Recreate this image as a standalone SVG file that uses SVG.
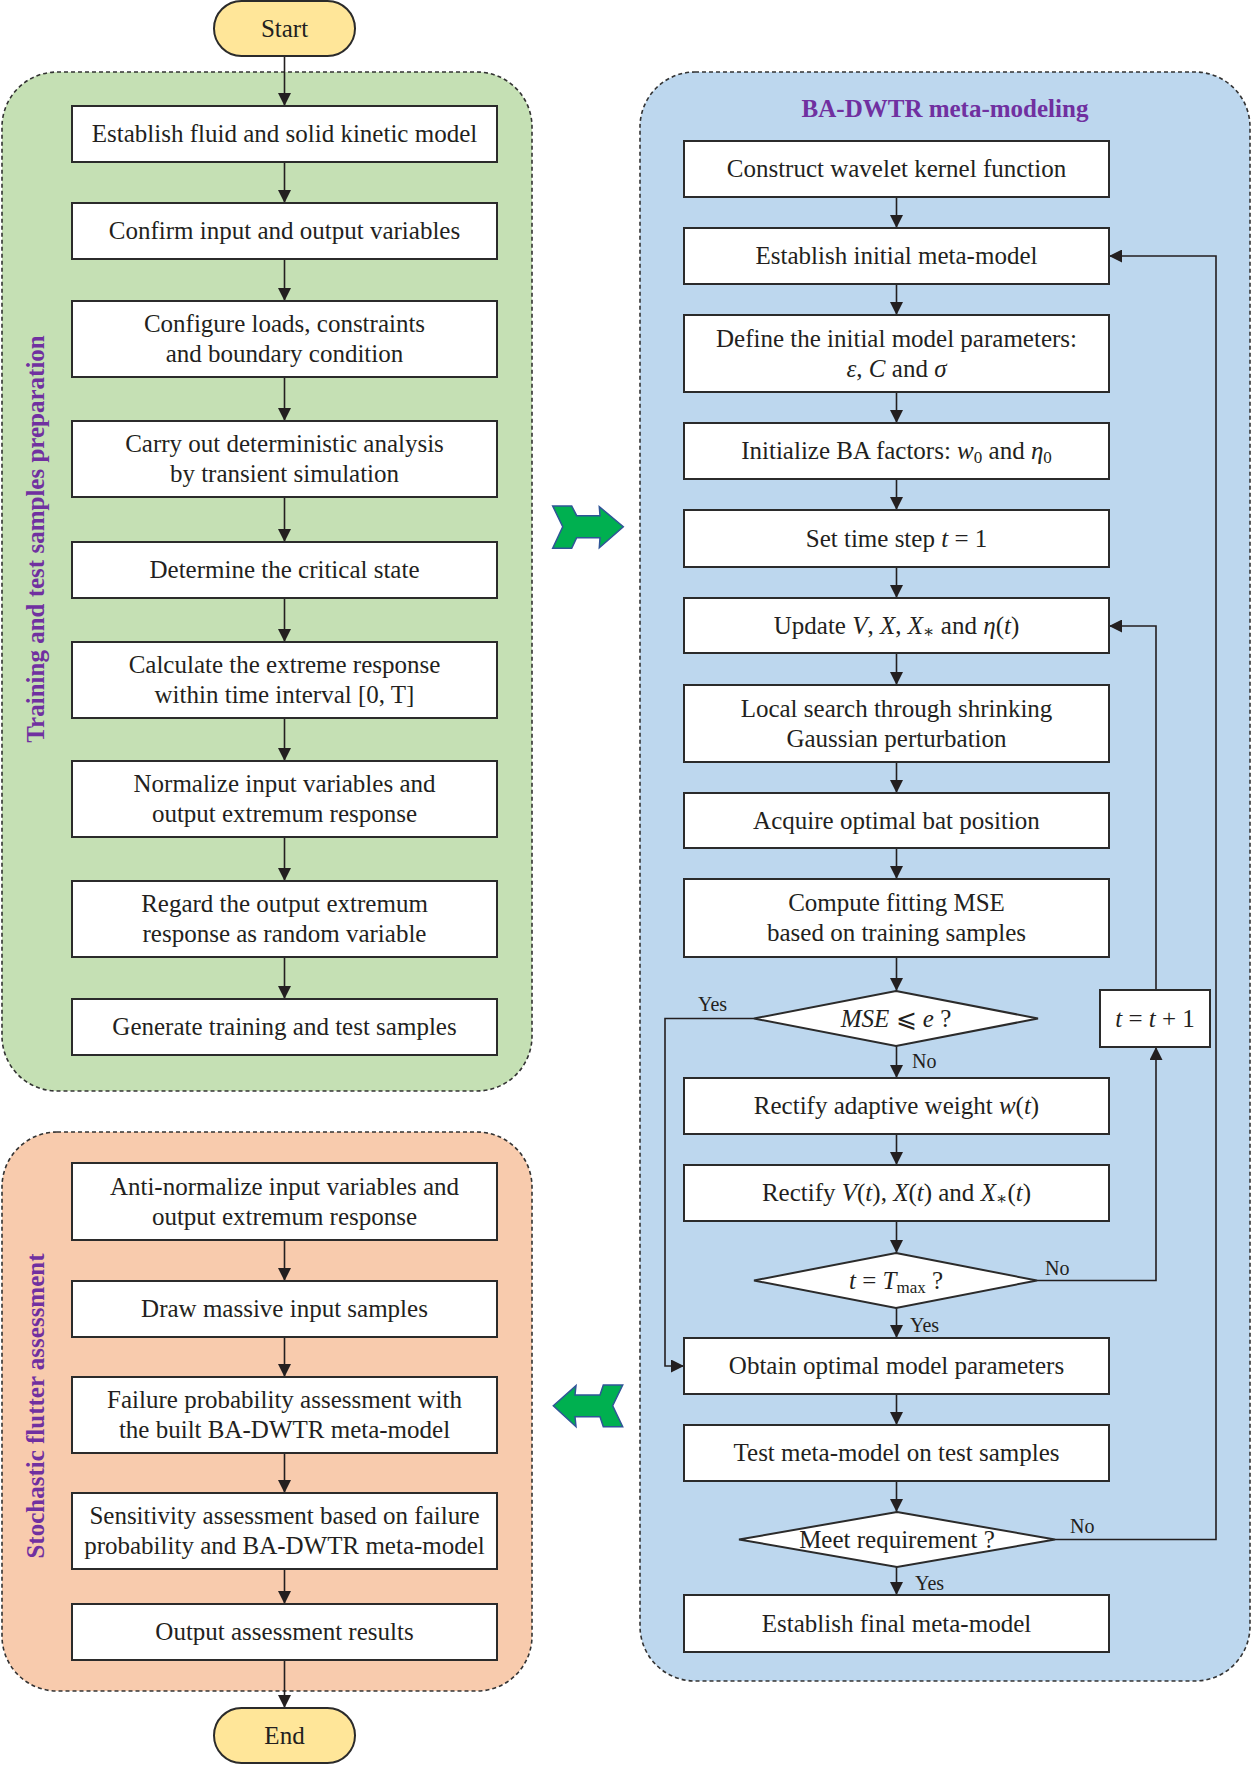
<svg xmlns="http://www.w3.org/2000/svg" width="1252" height="1766" viewBox="0 0 1252 1766">
<style>
.t{font-family:"Liberation Serif","DejaVu Serif",serif;font-size:25px;fill:#231f20;text-anchor:middle}
.lab{font-family:"Liberation Serif","DejaVu Serif",serif;font-size:20px;fill:#231f20}
.ttl{font-family:"Liberation Serif","DejaVu Serif",serif;font-size:25px;font-weight:bold;fill:#7030a0;text-anchor:middle}
.box{fill:#ffffff;stroke:#2b2b2b;stroke-width:2}
.term{fill:#ffe699;stroke:#2b2b2b;stroke-width:2}
.panel{stroke:#333333;stroke-width:1.6;stroke-dasharray:4 3}
.ln{fill:none;stroke:#231f20;stroke-width:1.6}
.ga{fill:#00b050;stroke:#2f5597;stroke-width:1.5;stroke-linejoin:miter}
.i{font-style:italic}
.sub{font-size:17px}
</style>
<defs>
<marker id="ah" markerUnits="userSpaceOnUse" markerWidth="13" markerHeight="13" refX="13" refY="6.5" orient="auto">
<path d="M0,0 L13,6.5 L0,13 z" fill="#231f20"/>
</marker>
</defs>

<g id="panels">
<rect id="panel-train" class="panel" x="2" y="72" width="530" height="1019" rx="55" fill="#c5e0b4"/>
<rect id="panel-stoch" class="panel" x="2" y="1132" width="530" height="559" rx="55" fill="#f8cbad"/>
<rect id="panel-ba" class="panel" x="640" y="72" width="610" height="1609" rx="55" fill="#bdd7ee"/>
<text class="ttl" x="945" y="117">BA-DWTR meta-modeling</text>
<text class="ttl" transform="translate(44,539) rotate(-90)">Training and test samples preparation</text>
<text class="ttl" transform="translate(44,1406) rotate(-90)">Stochastic flutter assessment</text>
</g>

<g id="big-arrows">
<polygon id="arrow-right" class="ga" points="552.7,506 571.7,506 576.7,515.7 600,515.7 599.3,506.7 623.3,526.7 599.3,547.7 600,537.7 576.7,537.7 571.7,548.3 552.7,548.3 562.7,526.7"/>
<polygon id="arrow-left" class="ga" points="553.3,1405.7 576,1385.7 575,1395 600,1395 603.3,1385 622.7,1385 612.7,1405.7 622.7,1426.7 603.3,1426.7 600,1416.7 575,1416.7 576,1426.7"/>
</g>

<g id="connectors">
<line class="ln" x1="284.5" y1="56" x2="284.5" y2="106" marker-end="url(#ah)"/>
<line class="ln" x1="284.5" y1="162" x2="284.5" y2="203" marker-end="url(#ah)"/>
<line class="ln" x1="284.5" y1="259" x2="284.5" y2="301" marker-end="url(#ah)"/>
<line class="ln" x1="284.5" y1="377" x2="284.5" y2="421" marker-end="url(#ah)"/>
<line class="ln" x1="284.5" y1="497" x2="284.5" y2="542" marker-end="url(#ah)"/>
<line class="ln" x1="284.5" y1="598" x2="284.5" y2="642" marker-end="url(#ah)"/>
<line class="ln" x1="284.5" y1="718" x2="284.5" y2="761" marker-end="url(#ah)"/>
<line class="ln" x1="284.5" y1="837" x2="284.5" y2="881" marker-end="url(#ah)"/>
<line class="ln" x1="284.5" y1="957" x2="284.5" y2="999" marker-end="url(#ah)"/>
<line class="ln" x1="284.5" y1="1240" x2="284.5" y2="1281" marker-end="url(#ah)"/>
<line class="ln" x1="284.5" y1="1337" x2="284.5" y2="1377" marker-end="url(#ah)"/>
<line class="ln" x1="284.5" y1="1453" x2="284.5" y2="1493" marker-end="url(#ah)"/>
<line class="ln" x1="284.5" y1="1569" x2="284.5" y2="1604" marker-end="url(#ah)"/>
<line class="ln" x1="284.5" y1="1660" x2="284.5" y2="1708" marker-end="url(#ah)"/>

<line class="ln" x1="896.5" y1="197" x2="896.5" y2="228" marker-end="url(#ah)"/>
<line class="ln" x1="896.5" y1="284" x2="896.5" y2="315" marker-end="url(#ah)"/>
<line class="ln" x1="896.5" y1="392" x2="896.5" y2="423" marker-end="url(#ah)"/>
<line class="ln" x1="896.5" y1="479" x2="896.5" y2="510" marker-end="url(#ah)"/>
<line class="ln" x1="896.5" y1="567" x2="896.5" y2="598" marker-end="url(#ah)"/>
<line class="ln" x1="896.5" y1="653" x2="896.5" y2="685" marker-end="url(#ah)"/>
<line class="ln" x1="896.5" y1="762" x2="896.5" y2="793" marker-end="url(#ah)"/>
<line class="ln" x1="896.5" y1="848" x2="896.5" y2="879" marker-end="url(#ah)"/>
<line class="ln" x1="896.5" y1="957" x2="896.5" y2="991" marker-end="url(#ah)"/>
<line class="ln" x1="896.5" y1="1046" x2="896.5" y2="1078" marker-end="url(#ah)"/>
<line class="ln" x1="896.5" y1="1134" x2="896.5" y2="1165" marker-end="url(#ah)"/>
<line class="ln" x1="896.5" y1="1221" x2="896.5" y2="1253" marker-end="url(#ah)"/>
<line class="ln" x1="896.5" y1="1308" x2="896.5" y2="1338" marker-end="url(#ah)"/>
<line class="ln" x1="896.5" y1="1394" x2="896.5" y2="1425" marker-end="url(#ah)"/>
<line class="ln" x1="896.5" y1="1481" x2="896.5" y2="1512" marker-end="url(#ah)"/>
<line class="ln" x1="896.5" y1="1567" x2="896.5" y2="1595" marker-end="url(#ah)"/>

<polyline class="ln" points="754,1018.5 665,1018.5 665,1366 684,1366" marker-end="url(#ah)"/>
<polyline class="ln" points="1037,1280.5 1156,1280.5 1156,1047" marker-end="url(#ah)"/>
<polyline class="ln" points="1156,990 1156,626 1109,626" marker-end="url(#ah)"/>
<polyline class="ln" points="1055,1539.5 1216,1539.5 1216,256 1109,256" marker-end="url(#ah)"/>

<text class="lab" x="698" y="1011">Yes</text>
<text class="lab" x="912" y="1068">No</text>
<text class="lab" x="1045" y="1275">No</text>
<text class="lab" x="910" y="1332">Yes</text>
<text class="lab" x="1070" y="1533">No</text>
<text class="lab" x="915" y="1590">Yes</text>
</g>

<g id="start"><rect class="term" x="214" y="1" width="141" height="55" rx="27.5"/><text class="t" x="284.5" y="37">Start</text></g>
<g id="end"><rect class="term" x="214" y="1708" width="141" height="55" rx="27.5"/><text class="t" x="284.5" y="1744">End</text></g>

<g id="L1"><rect class="box" x="72" y="106" width="425" height="56"/><text class="t" x="284.5" y="142">Establish fluid and solid kinetic model</text></g>
<g id="L2"><rect class="box" x="72" y="203" width="425" height="56"/><text class="t" x="284.5" y="239">Confirm input and output variables</text></g>
<g id="L3"><rect class="box" x="72" y="301" width="425" height="76"/><text class="t" x="284.5" y="332">Configure loads, constraints</text><text class="t" x="284.5" y="362">and boundary condition</text></g>
<g id="L4"><rect class="box" x="72" y="421" width="425" height="76"/><text class="t" x="284.5" y="452">Carry out deterministic analysis</text><text class="t" x="284.5" y="482">by transient simulation</text></g>
<g id="L5"><rect class="box" x="72" y="542" width="425" height="56"/><text class="t" x="284.5" y="578">Determine the critical state</text></g>
<g id="L6"><rect class="box" x="72" y="642" width="425" height="76"/><text class="t" x="284.5" y="673">Calculate the extreme response</text><text class="t" x="284.5" y="703">within time interval [0, T]</text></g>
<g id="L7"><rect class="box" x="72" y="761" width="425" height="76"/><text class="t" x="284.5" y="792">Normalize input variables and</text><text class="t" x="284.5" y="822">output extremum response</text></g>
<g id="L8"><rect class="box" x="72" y="881" width="425" height="76"/><text class="t" x="284.5" y="912">Regard the output extremum</text><text class="t" x="284.5" y="942">response as random variable</text></g>
<g id="L9"><rect class="box" x="72" y="999" width="425" height="56"/><text class="t" x="284.5" y="1035">Generate training and test samples</text></g>

<g id="O1"><rect class="box" x="72" y="1163" width="425" height="77"/><text class="t" x="284.5" y="1195">Anti-normalize input variables and</text><text class="t" x="284.5" y="1225">output extremum response</text></g>
<g id="O2"><rect class="box" x="72" y="1281" width="425" height="56"/><text class="t" x="284.5" y="1317">Draw massive input samples</text></g>
<g id="O3"><rect class="box" x="72" y="1377" width="425" height="76"/><text class="t" x="284.5" y="1408">Failure probability assessment with</text><text class="t" x="284.5" y="1438">the built BA-DWTR meta-model</text></g>
<g id="O4"><rect class="box" x="72" y="1493" width="425" height="76"/><text class="t" x="284.5" y="1524">Sensitivity assessment based on failure</text><text class="t" x="284.5" y="1554">probability and BA-DWTR meta-model</text></g>
<g id="O5"><rect class="box" x="72" y="1604" width="425" height="56"/><text class="t" x="284.5" y="1640">Output assessment results</text></g>

<g id="R1"><rect class="box" x="684" y="141" width="425" height="56"/><text class="t" x="896.5" y="177">Construct wavelet kernel function</text></g>
<g id="R2"><rect class="box" x="684" y="228" width="425" height="56"/><text class="t" x="896.5" y="264">Establish initial meta-model</text></g>
<g id="R3"><rect class="box" x="684" y="315" width="425" height="77"/><text class="t" x="896.5" y="346.5">Define the initial model parameters:</text><text class="t" x="896.5" y="376.5"><tspan class="i">ε</tspan>, <tspan class="i">C</tspan> and <tspan class="i">σ</tspan></text></g>
<g id="R4"><rect class="box" x="684" y="423" width="425" height="56"/><text class="t" x="896.5" y="459">Initialize BA factors: <tspan class="i">w</tspan><tspan class="sub" dy="4">0</tspan><tspan dy="-4"> and </tspan><tspan class="i">η</tspan><tspan class="sub" dy="4">0</tspan></text></g>
<g id="R5"><rect class="box" x="684" y="510" width="425" height="57"/><text class="t" x="896.5" y="546.5">Set time step <tspan class="i">t</tspan> = 1</text></g>
<g id="R6"><rect class="box" x="684" y="598" width="425" height="55"/><text class="t" x="896.5" y="633.5">Update <tspan class="i">V</tspan>, <tspan class="i">X</tspan>, <tspan class="i">X</tspan><tspan class="sub" dy="3">∗</tspan><tspan dy="-3"> and </tspan><tspan class="i">η</tspan>(<tspan class="i">t</tspan>)</text></g>
<g id="R7"><rect class="box" x="684" y="685" width="425" height="77"/><text class="t" x="896.5" y="716.5">Local search through shrinking</text><text class="t" x="896.5" y="746.5">Gaussian perturbation</text></g>
<g id="R8"><rect class="box" x="684" y="793" width="425" height="55"/><text class="t" x="896.5" y="828.5">Acquire optimal bat position</text></g>
<g id="R9"><rect class="box" x="684" y="879" width="425" height="78"/><text class="t" x="896.5" y="911">Compute fitting MSE</text><text class="t" x="896.5" y="941">based on training samples</text></g>
<g id="D1"><polygon class="box" points="896,991 1038,1018.5 896,1046 754,1018.5"/><text class="t" x="896" y="1027"><tspan class="i">MSE</tspan> ⩽ <tspan class="i">e</tspan> ?</text></g>
<g id="R10"><rect class="box" x="684" y="1078" width="425" height="56"/><text class="t" x="896.5" y="1114">Rectify adaptive weight <tspan class="i">w</tspan>(<tspan class="i">t</tspan>)</text></g>
<g id="R11"><rect class="box" x="684" y="1165" width="425" height="56"/><text class="t" x="896.5" y="1201">Rectify <tspan class="i">V</tspan>(<tspan class="i">t</tspan>), <tspan class="i">X</tspan>(<tspan class="i">t</tspan>) and <tspan class="i">X</tspan><tspan class="sub" dy="3">∗</tspan><tspan dy="-3">(</tspan><tspan class="i">t</tspan>)</text></g>
<g id="D2"><polygon class="box" points="896,1253 1037,1280.5 896,1308 754,1280.5"/><text class="t" x="896" y="1289"><tspan class="i">t</tspan> = <tspan class="i">T</tspan><tspan class="sub" dy="4">max</tspan><tspan dy="-4"> ?</tspan></text></g>
<g id="T1"><rect class="box" x="1100" y="990" width="110" height="57"/><text class="t" x="1155" y="1027"><tspan class="i">t</tspan> = <tspan class="i">t</tspan> + 1</text></g>
<g id="R12"><rect class="box" x="684" y="1338" width="425" height="56"/><text class="t" x="896.5" y="1374">Obtain optimal model parameters</text></g>
<g id="R13"><rect class="box" x="684" y="1425" width="425" height="56"/><text class="t" x="896.5" y="1461">Test meta-model on test samples</text></g>
<g id="D3"><polygon class="box" points="897,1512 1055,1539.5 897,1567 739,1539.5"/><text class="t" x="897" y="1548">Meet requirement ?</text></g>
<g id="R14"><rect class="box" x="684" y="1595" width="425" height="57"/><text class="t" x="896.5" y="1631.5">Establish final meta-model</text></g>
</svg>
